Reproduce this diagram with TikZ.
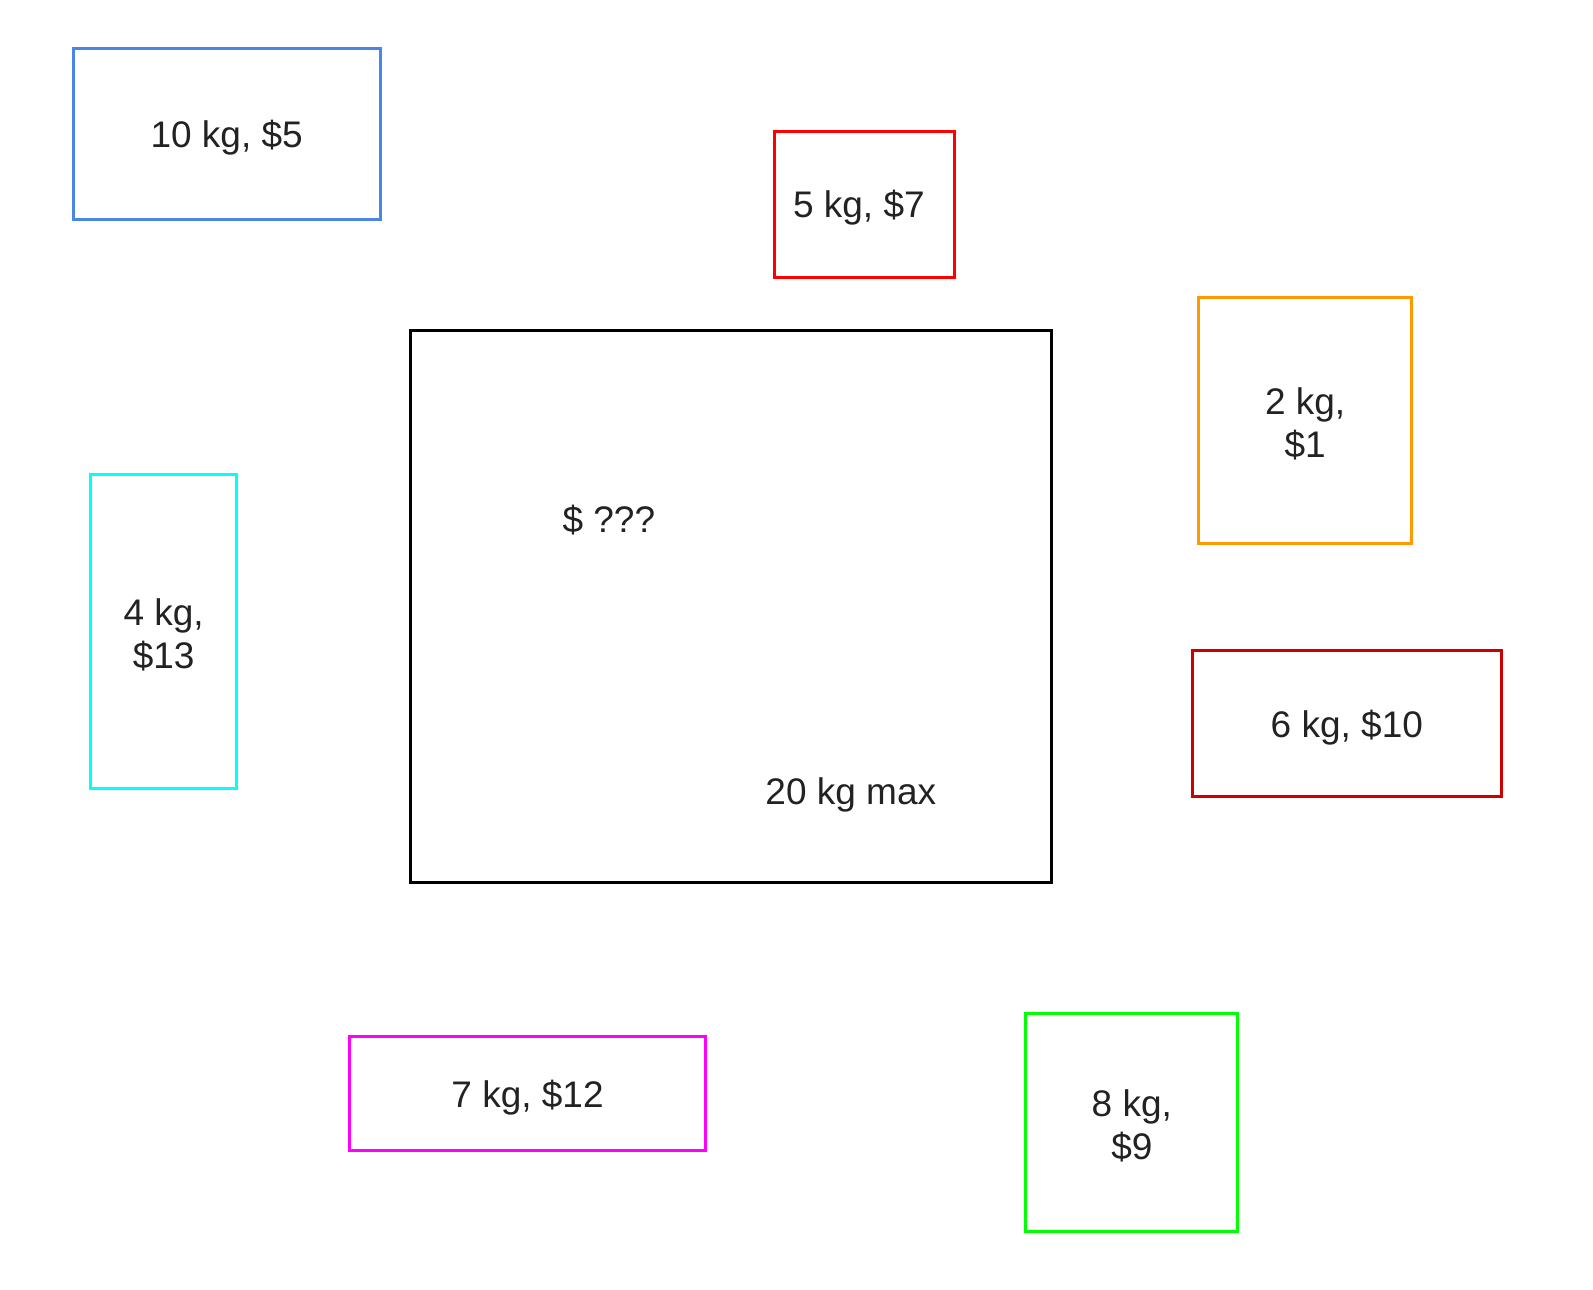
\documentclass[tikz,border=0pt]{standalone}
\usepackage{fontspec}
\setmainfont{Liberation Sans}
\definecolor{cblue}{HTML}{4A86E8}
\definecolor{cred}{HTML}{FF0000}
\definecolor{corange}{HTML}{FF9900}
\definecolor{ccyan}{HTML}{00FFFF}
\definecolor{cdred}{HTML}{CC0000}
\definecolor{cmag}{HTML}{FF00FF}
\definecolor{cgreen}{HTML}{00FF00}
\definecolor{ctext}{HTML}{222222}
\tikzset{
  item/.style={draw, rectangle, line width=3pt, inner sep=0pt},
  lbl/.style={inner sep=0pt, align=center, text=ctext, font=\fontsize{37}{43}\selectfont}
}
\begin{document}
\begin{tikzpicture}[x=1.0165pt,y=-1.0165pt]
\useasboundingbox (0,0) rectangle (1567.2,1269.1);
\node[item, draw=black, minimum width=641pt, minimum height=552pt] (sack) at (719.5,596.5) {};
\node[lbl, yshift=-3pt] (price) at (599,509) {\$ ???};
\node[lbl, yshift=-3pt] (cap) at (837,779) {20 kg max};
\node[item, draw=cblue, minimum width=307pt, minimum height=171pt] (i10) at (223,132) {};
\node[item, draw=cred, minimum width=180pt, minimum height=146pt] (i5) at (850.5,201) {};
\node[item, draw=corange, minimum width=213pt, minimum height=246pt] (i2) at (1284,414) {};
\node[item, draw=ccyan, minimum width=146pt, minimum height=314pt] (i4) at (161,621.5) {};
\node[item, draw=cdred, minimum width=309pt, minimum height=146pt] (i6) at (1325,712) {};
\node[item, draw=cmag, minimum width=356pt, minimum height=114pt] (i7) at (519,1076) {};
\node[item, draw=cgreen, minimum width=212pt, minimum height=218pt] (i8) at (1113.5,1104) {};
\node[lbl, yshift=-3.5pt] (t10) at (i10.center) {10 kg, \$5};
\node[lbl, yshift=-3.5pt] (t5) at (845,201) {5 kg, \$7};
\node[lbl, yshift=-3.5pt] (t2) at (i2.center) {2 kg,\\\$1};
\node[lbl, yshift=-3.5pt] (t4) at (i4.center) {4 kg,\\\$13};
\node[lbl, yshift=-3.5pt] (t6) at (i6.center) {6 kg, \$10};
\node[lbl, yshift=-3.5pt] (t7) at (i7.center) {7 kg, \$12};
\node[lbl, yshift=-3.5pt] (t8) at (i8.center) {8 kg,\\\$9};
\end{tikzpicture}
\end{document}
